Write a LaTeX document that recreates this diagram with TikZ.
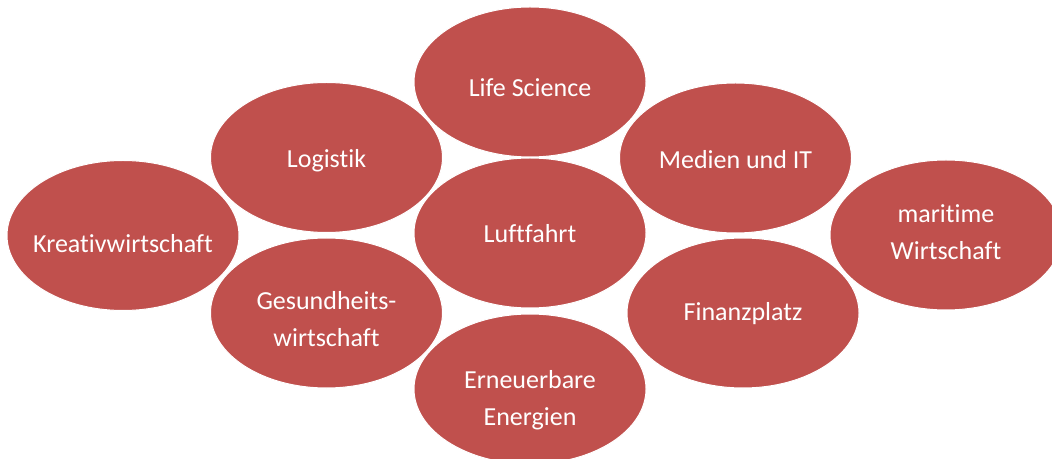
\documentclass[tikz,border=0pt]{standalone}
\usepackage{fontspec}
\setmainfont{Carlito}[Ligatures=NoCommon]
\usetikzlibrary{shapes.geometric,calc}
\definecolor{bubblered}{HTML}{C0504D}
\begin{document}
\begin{tikzpicture}[x=0.75pt,y=-0.75pt,
  bubble/.style={ellipse, fill=bubblered, draw=white, line width=0.75pt,
    minimum width=174pt, minimum height=112.5pt, inner sep=0pt},
  caption/.style={text=white, align=center, inner sep=0pt,
    font=\fontsize{19.5}{27.4}\selectfont}]
  \useasboundingbox (0,0) rectangle (1052,459);
  \begin{scope}
    \clip (0,0) rectangle (1052,459);
    \node[bubble] (ls)  at (530,82)      {};
    \node[bubble] (log) at (326.5,157.5) {};
    \node[bubble] (med) at (735.5,158)   {};
    \node[bubble] (kre) at (123,235.5)   {};
    \node[bubble] (luf) at (530,233)     {};
    \node[bubble] (mar) at (946,235)     {};
    \node[bubble] (ges) at (326.5,313)   {};
    \node[bubble] (fin) at (743,313)     {};
    \node[bubble] (ern) at (530,389)     {};
  \end{scope}
  % captions, each set a little off the ellipse centre
  \node[caption] (ls-t)  at ($(ls)+(0,6)$)   {Life Science};
  \node[caption] (log-t) at ($(log)+(0,3)$)  {Logistik};
  \node[caption] (med-t) at ($(med)+(0,2)$)  {Medien und IT};
  \node[caption] (kre-t) at ($(kre)+(0,8)$)  {Kreativwirtschaft};
  \node[caption] (luf-t) at ($(luf)+(0,1)$)  {Luftfahrt};
  \node[caption] (mar-t) at ($(mar)+(0,-3)$) {maritime\\Wirtschaft};
  \node[caption] (ges-t) at ($(ges)+(0,6)$)  {Gesundheits-\\wirtschaft};
  \node[caption] (fin-t) at ($(fin)+(0,1)$)  {Finanzplatz};
  \node[caption] (ern-t) at ($(ern)+(0,11)$) {Erneuerbare\\Energien};
\end{tikzpicture}
\end{document}
